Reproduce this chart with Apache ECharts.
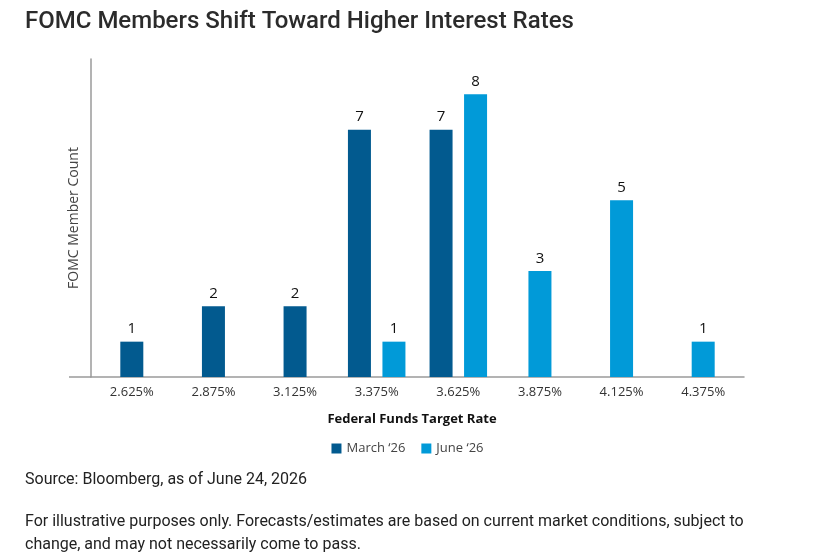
<!DOCTYPE html>
<html>
<head>
<meta charset="utf-8">
<script src="https://cdn.jsdelivr.net/npm/echarts@6/dist/echarts.min.js"></script>
<style>
  html, body { margin: 0; padding: 0; background: #fff; }
  #chart { width: 815px; height: 557px; }
</style>
</head>
<body>
<div id="chart"></div>
<script>
const rates = ["2.625%", "2.875%", "3.125%", "3.375%", "3.625%", "3.875%", "4.125%", "4.375%"];
const marchCounts = [1, 2, 2, 7, 7, null, null, null];
const juneCounts = [null, null, null, 1, 8, 3, 5, 1];

const marchName = "March \u201826";
const juneName = "June \u201826";
const marchColor = "#025a8f";
const juneColor = "#019ad8";

// categories with both series get side-by-side bars, the rest a centred single bar
const paired = rates.map((r, i) => marchCounts[i] != null && juneCounts[i] != null);
const pick = (arr, wantPair) => arr.map((v, i) => (v != null && paired[i] === wantPair ? v : "-"));

const font = "'Open Sans', sans-serif";
const barLabel = {
  show: true,
  position: "top",
  distance: 5,
  color: "#111",
  fontSize: 15,
  fontFamily: font,
};

function barSeries(name, color, data, axis, stack) {
  return {
    name: name,
    type: "bar",
    xAxisIndex: axis,
    stack: stack,
    barWidth: 23,
    barGap: "50%",
    itemStyle: { color: color },
    label: barLabel,
    data: data,
  };
}

const chart = echarts.init(document.getElementById("chart"));

const option = {
  animation: false,
  title: [
    {
      text: "FOMC Members Shift Toward Higher Interest Rates",
      left: 20,
      top: 5,
      textStyle: { fontFamily: "Roboto", fontSize: 24, fontWeight: 500, color: "#2b2b2b" },
    },
    {
      text: "Federal Funds Target Rate",
      left: 407,
      top: 408,
      textAlign: "center",
      textStyle: { fontFamily: font, fontSize: 13, fontWeight: "bold", color: "#111" },
    },
    {
      text: "Source: Bloomberg, as of June 24, 2026",
      left: 20,
      top: 467,
      textStyle: { fontFamily: "Roboto", fontSize: 16, fontWeight: "normal", color: "#222" },
    },
    {
      text: "For illustrative purposes only. Forecasts/estimates are based on current market conditions, subject to\nchange, and may not necessarily come to pass.",
      left: 20,
      top: 505,
      textStyle: { fontFamily: "Roboto", fontSize: 16, fontWeight: "normal", color: "#222", lineHeight: 23 },
    },
  ],
  legend: {
    data: [marchName, juneName],
    top: 437,
    left: "center",
    itemWidth: 10,
    itemHeight: 10,
    itemGap: 16,
    icon: "rect",
    textStyle: { fontFamily: font, fontSize: 13, color: "#444" },
  },
  grid: {
    left: 91,
    right: 71,
    top: 59,
    bottom: 180,
  },
  xAxis: [
    {
      type: "category",
      data: rates,
      axisLine: { show: true, lineStyle: { color: "#9a9a9a", width: 1.5 } },
      axisTick: { show: false },
      axisLabel: { color: "#333", fontSize: 13, fontFamily: font, margin: 9 },
    },
    {
      type: "category",
      data: rates,
      show: false,
    },
  ],
  yAxis: {
    type: "value",
    min: 0,
    max: 9,
    name: "FOMC Member Count",
    nameLocation: "middle",
    nameGap: 10,
    nameTextStyle: { color: "#444", fontSize: 14, fontFamily: font },
    axisLine: { show: true, lineStyle: { color: "#9a9a9a", width: 1.5 } },
    axisTick: { show: false },
    axisLabel: { show: false },
    splitLine: { show: false },
  },
  graphic: [
    {
      // x axis runs a little past the y axis on the left
      type: "line",
      shape: { x1: 69, y1: 377, x2: 91, y2: 377 },
      style: { stroke: "#9a9a9a", lineWidth: 1.5 },
    },
  ],
  series: [
    barSeries(marchName, marchColor, pick(marchCounts, true), 0, null),
    barSeries(juneName, juneColor, pick(juneCounts, true), 0, null),
    barSeries(marchName, marchColor, pick(marchCounts, false), 1, "single"),
    barSeries(juneName, juneColor, pick(juneCounts, false), 1, "single"),
  ],
};

chart.setOption(option);
</script>
</body>
</html>
